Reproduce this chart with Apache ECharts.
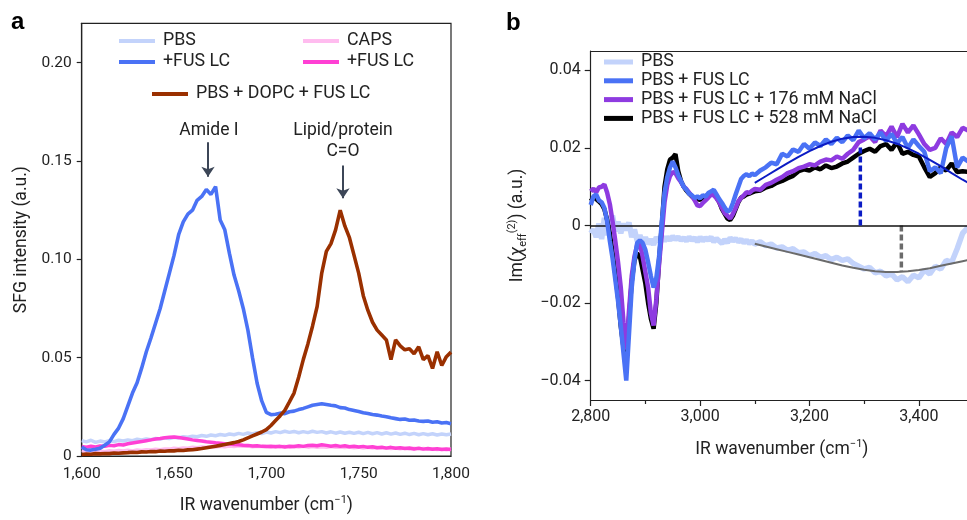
<!DOCTYPE html>
<html><head><meta charset="utf-8">
<script src="https://cdn.jsdelivr.net/npm/echarts@6/dist/echarts.min.js"></script>
<style>html,body{margin:0;padding:0;background:#fff}#c{width:967px;height:520px}</style>
</head><body><div id="c"></div>
<script>
// ---------- Panel a data ----------
const aWavenumber = [
1600,1602.5,1605,1607.5,1610,1612.5,1615,1617.5,1620,1622.5,
1625,1627.5,1630,1632.5,1635,1637.5,1640,1642.5,1645,1647.5,
1650,1652.5,1655,1657.5,1660,1662.5,1665,1667.5,1670,1672.5,
1675,1677.5,1680,1682.5,1685,1687.5,1690,1692.5,1695,1697.5,
1700,1702.5,1705,1707.5,1710,1712.5,1715,1717.5,1720,1722.5,
1725,1727.5,1730,1732.5,1735,1737.5,1740,1742.5,1745,1747.5,
1750,1752.5,1755,1757.5,1760,1762.5,1765,1767.5,1770,1772.5,
1775,1777.5,1780,1782.5,1785,1787.5,1790,1792.5,1795,1797.5,1800];
const aPBS = [
0.0078,0.0072,0.0080,0.0069,0.0076,0.0071,0.0078,0.0073,0.0080,0.0076,
0.0082,0.0078,0.0085,0.0081,0.0087,0.0083,0.0089,0.0086,0.0092,0.0089,
0.0095,0.0092,0.0098,0.0095,0.0101,0.0098,0.0104,0.0100,0.0107,0.0103,
0.0109,0.0105,0.0112,0.0108,0.0115,0.0110,0.0117,0.0112,0.0119,0.0114,
0.0122,0.0117,0.0124,0.0119,0.0126,0.0120,0.0125,0.0118,0.0124,0.0119,
0.0126,0.0120,0.0124,0.0117,0.0123,0.0116,0.0122,0.0116,0.0121,0.0115,
0.0121,0.0114,0.0120,0.0113,0.0119,0.0112,0.0118,0.0111,0.0117,0.0110,
0.0116,0.0109,0.0115,0.0108,0.0114,0.0108,0.0113,0.0107,0.0112,0.0108,0.0112];
const aPBSFUS = [
0.0045,0.0032,0.0030,0.0034,0.0040,0.0055,0.0072,0.0110,0.0142,0.0190,
0.0255,0.0320,0.0372,0.0448,0.0530,0.0600,0.0675,0.0750,0.0840,0.0930,
0.1020,0.1125,0.1190,0.1230,0.1250,0.1300,0.1320,0.1355,0.1330,0.1370,
0.1200,0.1150,0.1030,0.0920,0.0840,0.0750,0.0640,0.0500,0.0370,0.0280,
0.0222,0.0210,0.0212,0.0218,0.0215,0.0225,0.0228,0.0236,0.0242,0.0250,
0.0258,0.0262,0.0266,0.0262,0.0258,0.0255,0.0246,0.0244,0.0236,0.0231,
0.0226,0.0220,0.0216,0.0211,0.0208,0.0203,0.0200,0.0194,0.0190,0.0186,
0.0188,0.0182,0.0183,0.0178,0.0176,0.0178,0.0172,0.0174,0.0168,0.0170,0.0164];
const aCAPS = [
0.0028,0.0024,0.0027,0.0023,0.0026,0.0022,0.0027,0.0024,0.0028,0.0025,
0.0029,0.0026,0.0030,0.0028,0.0032,0.0030,0.0034,0.0032,0.0036,0.0035,
0.0039,0.0037,0.0041,0.0040,0.0044,0.0042,0.0046,0.0044,0.0048,0.0046,
0.0050,0.0047,0.0051,0.0048,0.0052,0.0049,0.0051,0.0047,0.0050,0.0048,
0.0049,0.0046,0.0050,0.0047,0.0049,0.0045,0.0048,0.0046,0.0049,0.0045,
0.0048,0.0044,0.0047,0.0045,0.0048,0.0044,0.0046,0.0043,0.0046,0.0042,
0.0045,0.0041,0.0044,0.0040,0.0043,0.0039,0.0042,0.0038,0.0041,0.0037,
0.0040,0.0036,0.0039,0.0035,0.0038,0.0034,0.0037,0.0033,0.0036,0.0032,0.0034];
const aCAPSFUS = [
0.0048,0.0045,0.0050,0.0046,0.0051,0.0049,0.0054,0.0052,0.0058,0.0056,
0.0062,0.0066,0.0070,0.0074,0.0078,0.0082,0.0086,0.0089,0.0093,0.0095,
0.0097,0.0094,0.0090,0.0086,0.0082,0.0079,0.0076,0.0072,0.0070,0.0067,
0.0065,0.0062,0.0061,0.0058,0.0057,0.0055,0.0054,0.0051,0.0052,0.0049,
0.0048,0.0050,0.0047,0.0049,0.0046,0.0050,0.0048,0.0052,0.0049,0.0053,
0.0055,0.0052,0.0057,0.0054,0.0050,0.0053,0.0049,0.0052,0.0047,0.0050,
0.0046,0.0049,0.0044,0.0047,0.0042,0.0045,0.0040,0.0044,0.0039,0.0042,
0.0038,0.0041,0.0036,0.0040,0.0035,0.0038,0.0034,0.0037,0.0033,0.0036,0.0033];
const aDOPC = [
0.0008,0.0010,0.0009,0.0012,0.0011,0.0013,0.0012,0.0015,0.0014,0.0016,
0.0017,0.0019,0.0018,0.0021,0.0020,0.0023,0.0022,0.0025,0.0024,0.0027,
0.0026,0.0029,0.0028,0.0031,0.0032,0.0035,0.0038,0.0042,0.0046,0.0050,
0.0054,0.0058,0.0063,0.0068,0.0074,0.0082,0.0092,0.0102,0.0112,0.0122,
0.0134,0.0155,0.0180,0.0205,0.0232,0.0275,0.0320,0.0400,0.0490,0.0570,
0.0660,0.0760,0.0930,0.1040,0.1080,0.1150,0.1250,0.1170,0.1110,0.1020,
0.0930,0.0815,0.0740,0.0680,0.0640,0.0615,0.0590,0.0490,0.0590,0.0560,
0.0540,0.0545,0.0520,0.0555,0.0490,0.0510,0.0445,0.0530,0.0460,0.0505,0.0528];
const aYTicks = [0, 0.05, 0.10, 0.15, 0.20];
const aArrows = [ // [x, yStart, yEnd]
  [1668.4, 0.1595, 0.1420],
  [1741.5, 0.1477, 0.1310]
];
const aNotes = [ // [x, y, text]
  [1668.9, 0.1655, 'Amide I'],
  [1741.5, 0.1601, 'Lipid/protein\nC=O']
];

// ---------- Panel b data ----------
const bWavenumber = [
2800,2805,2810,2815,2820,2825,2830,2835,2840,2845,
2850,2855,2860,2865,2870,2875,2880,2885,2890,2895,
2900,2905,2910,2915,2920,2925,2930,2935,2940,2945,
2950,2955,2960,2965,2970,2975,2980,2985,2990,2995,
3000,3005,3010,3015,3020,3025,3030,3035,3040,3045,
3050,3055,3060,3065,3070,3075,3080,3085,3090,3095,
3100,3110,3120,3130,3140,3150,3160,3170,3180,3190,
3200,3210,3220,3230,3240,3250,3260,3270,3280,3290,
3300,3310,3320,3330,3340,3350,3360,3370,3380,3390,
3400,3410,3420,3430,3440,3450,3460,3470,3480,3490];
const bPBS = [
-0.0020,-0.0010,-0.0030,0.0005,-0.0035,0.0020,-0.0025,0.0015,0.0025,-0.0015,
0.0010,-0.0020,0.0005,-0.0012,0.0008,-0.0030,-0.0010,-0.0040,-0.0025,-0.0045,
-0.0030,-0.0048,-0.0035,-0.0050,-0.0030,-0.0042,-0.0028,-0.0040,-0.0030,-0.0038,
-0.0028,-0.0036,-0.0030,-0.0038,-0.0032,-0.0040,-0.0030,-0.0038,-0.0032,-0.0042,
-0.0030,-0.0040,-0.0032,-0.0038,-0.0030,-0.0042,-0.0034,-0.0040,-0.0046,-0.0036,
-0.0044,-0.0032,-0.0040,-0.0034,-0.0042,-0.0036,-0.0044,-0.0038,-0.0046,-0.0040,
-0.0048,-0.0042,-0.0052,-0.0048,-0.0058,-0.0055,-0.0064,-0.0060,-0.0070,-0.0068,
-0.0078,-0.0072,-0.0082,-0.0078,-0.0088,-0.0082,-0.0090,-0.0086,-0.0098,-0.0105,
-0.0112,-0.0108,-0.0122,-0.0118,-0.0130,-0.0125,-0.0140,-0.0132,-0.0145,-0.0128,
-0.0135,-0.0115,-0.0125,-0.0105,-0.0112,-0.0090,-0.0095,-0.0060,-0.0020,-0.0005];
const bFUS = [
0.0053,0.0075,0.0080,0.0065,0.0060,0.0045,0.0012,-0.0040,-0.0085,-0.0140,
-0.0195,-0.0260,-0.0330,-0.0400,-0.0280,-0.0160,-0.0090,-0.0045,-0.0038,-0.0045,
-0.0063,-0.0095,-0.0130,-0.0160,-0.0135,-0.0080,0.0010,0.0085,0.0125,0.0150,
0.0165,0.0150,0.0130,0.0115,0.0100,0.0092,0.0082,0.0078,0.0071,0.0075,
0.0070,0.0078,0.0074,0.0084,0.0088,0.0092,0.0080,0.0068,0.0058,0.0046,
0.0036,0.0040,0.0058,0.0080,0.0100,0.0120,0.0128,0.0132,0.0127,0.0134,
0.0130,0.0142,0.0150,0.0162,0.0158,0.0185,0.0178,0.0196,0.0190,0.0210,
0.0198,0.0214,0.0205,0.0222,0.0210,0.0226,0.0215,0.0232,0.0220,0.0245,
0.0225,0.0238,0.0222,0.0240,0.0218,0.0236,0.0212,0.0228,0.0200,0.0222,
0.0205,0.0190,0.0140,0.0150,0.0135,0.0200,0.0230,0.0150,0.0175,0.0165];
const bNaCl176 = [
0.0088,0.0095,0.0085,0.0098,0.0100,0.0106,0.0085,0.0055,0.0010,-0.0040,
-0.0095,-0.0160,-0.0250,-0.0320,-0.0220,-0.0130,-0.0080,-0.0050,-0.0048,-0.0080,
-0.0120,-0.0160,-0.0225,-0.0258,-0.0190,-0.0100,-0.0020,0.0060,0.0105,0.0128,
0.0138,0.0135,0.0122,0.0112,0.0100,0.0094,0.0085,0.0076,0.0065,0.0052,
0.0050,0.0058,0.0065,0.0072,0.0080,0.0078,0.0070,0.0060,0.0045,0.0032,
0.0025,0.0018,0.0030,0.0045,0.0062,0.0071,0.0078,0.0086,0.0084,0.0090,
0.0094,0.0092,0.0105,0.0110,0.0118,0.0125,0.0135,0.0140,0.0148,0.0152,
0.0158,0.0155,0.0165,0.0170,0.0168,0.0178,0.0172,0.0185,0.0195,0.0215,
0.0222,0.0230,0.0215,0.0245,0.0230,0.0255,0.0228,0.0262,0.0240,0.0258,
0.0235,0.0210,0.0195,0.0200,0.0225,0.0210,0.0240,0.0228,0.0252,0.0245];
const bNaCl528 = [
0.0063,0.0072,0.0068,0.0062,0.0055,0.0042,0.0015,-0.0020,-0.0070,-0.0125,
-0.0185,-0.0260,-0.0315,-0.0335,-0.0240,-0.0145,-0.0090,-0.0072,-0.0080,-0.0115,
-0.0150,-0.0200,-0.0240,-0.0266,-0.0200,-0.0090,0.0000,0.0100,0.0145,0.0170,
0.0175,0.0184,0.0140,0.0115,0.0100,0.0090,0.0082,0.0075,0.0070,0.0068,
0.0066,0.0072,0.0075,0.0080,0.0086,0.0082,0.0072,0.0060,0.0042,0.0030,
0.0018,0.0014,0.0025,0.0042,0.0060,0.0072,0.0075,0.0080,0.0082,0.0085,
0.0088,0.0090,0.0098,0.0102,0.0110,0.0115,0.0122,0.0128,0.0140,0.0145,
0.0142,0.0150,0.0145,0.0155,0.0148,0.0152,0.0160,0.0165,0.0175,0.0185,
0.0192,0.0198,0.0190,0.0205,0.0210,0.0195,0.0215,0.0185,0.0190,0.0182,
0.0178,0.0150,0.0125,0.0135,0.0150,0.0142,0.0160,0.0138,0.0140,0.0138];
const bFitWavenumber = [3100,3120,3140,3160,3180,3200,3220,3240,3260,3280,3300,3320,3340,3360,3380,3400,3420,3440,3460,3480,3490];
const bFitFUS = [0.0110,0.0127,0.0144,0.0161,0.0177,0.0192,0.0205,0.0216,0.0224,0.0228,0.0229,0.0226,0.0220,0.0211,0.0199,0.0185,0.0169,0.0153,0.0135,0.0118,0.0110];
const bFitPBS = [-0.0047,-0.0054,-0.0061,-0.0068,-0.0075,-0.0082,-0.0089,-0.0096,-0.0103,-0.0109,-0.0114,-0.0118,-0.0120,-0.0120,-0.0118,-0.0115,-0.0110,-0.0104,-0.0098,-0.0092,-0.0089];
const bPeakFUS = [3293, 0.0205];   // dashed marker: x, top
const bPeakPBS = [3368, -0.0119];  // dashed marker: x, bottom
const bXTicks = [2800, 3000, 3200, 3400];
const bXMinorTicks = [2900, 3100, 3300];
const bYTicks = [-0.04, -0.02, 0, 0.02, 0.04];

const legendNames = {
  aPBS: 'PBS', aPBSFUS: '+FUS LC', aCAPS: 'CAPS', aCAPSFUS: '+FUS LC', aDOPC: 'PBS + DOPC + FUS LC',
  bPBS: 'PBS', bFUS: 'PBS + FUS LC', b176: 'PBS + FUS LC + 176 mM NaCl', b528: 'PBS + FUS LC + 528 mM NaCl'
};

const pairs = (xs, ys) => xs.map((x, i) => [x, ys[i]]);
const FONT = 'Roboto';
const INK = '#222';
const C = {
  pbsLight: '#c3d3fb', fusBlue: '#4a72f5', caps: '#ffbcef', capsFus: '#ff40d4', dopc: '#9a3000',
  purple: '#8e3be0', black: '#000000', fitBlue: '#0b1bc4', fitGray: '#6b6b6b', arrow: '#3c4657'
};

function lineSeries(name, xi, yi, data, color, width, z) {
  return { name, type: 'line', xAxisIndex: xi, yAxisIndex: yi, data, showSymbol: false, symbol: 'none',
    color, lineStyle: { color, width }, z, animation: false, silent: true };
}

const chart = echarts.init(document.getElementById('c'), null, { renderer: 'canvas' });
const thousands = v => v.toLocaleString('en-US');
const nameRich = {
  n: { fontSize: 17.5, color: INK, fontFamily: FONT, lineHeight: 22 },
  sup: { fontSize: 11, color: INK, fontFamily: FONT, verticalAlign: 'top', lineHeight: 11 },
  sub: { fontSize: 11, color: INK, fontFamily: FONT, verticalAlign: 'bottom', lineHeight: 12 },
  chi: { fontSize: 17.5, color: INK, fontFamily: FONT, lineHeight: 22, fontStyle: 'italic' }
};
const legendText = { fontSize: 17.8, color: INK, fontFamily: FONT, padding: [0, 0, 0, 3] };

const s1 = lineSeries('aPBS', 0, 0, pairs(aWavenumber, aPBS), C.pbsLight, 3.5, 2);
const s2 = lineSeries('aCAPS', 0, 0, pairs(aWavenumber, aCAPS), C.caps, 3.5, 2);
const s3 = lineSeries('aCAPSFUS', 0, 0, pairs(aWavenumber, aCAPSFUS), C.capsFus, 3.5, 3);
const s4 = lineSeries('aPBSFUS', 0, 0, pairs(aWavenumber, aPBSFUS), C.fusBlue, 3.6, 4);
const s5 = lineSeries('aDOPC', 0, 0, pairs(aWavenumber, aDOPC), C.dopc, 3.6, 5);
s5.markLine = {
  silent: true, symbol: ['none', 'arrow'], symbolSize: 10, animation: false,
  lineStyle: { color: C.arrow, width: 2, type: 'solid' }, label: { show: false },
  itemStyle: { color: C.arrow },
  data: aArrows.map(a => [{ coord: [a[0], a[1]] }, { coord: [a[0], a[2]] }])
};
s5.markPoint = {
  silent: true, symbol: 'rect', symbolSize: 1, itemStyle: { color: 'rgba(0,0,0,0)' }, animation: false,
  label: { show: true, position: 'inside', color: INK, fontSize: 17.5, fontFamily: FONT, lineHeight: 21 },
  data: aNotes.map(n => ({ coord: [n[0], n[1]], label: { formatter: n[2] } }))
};

const b0 = lineSeries('bPBS', 1, 1, pairs(bWavenumber, bPBS), C.pbsLight, 5.5, 2);
b0.markLine = { silent: true, symbol: 'none', animation: false, label: { show: false },
  lineStyle: { color: '#111', width: 1.6, type: 'solid' }, data: [{ yAxis: 0 }] };
const bFitG = lineSeries('bFitPBS', 1, 1, pairs(bFitWavenumber, bFitPBS), C.fitGray, 2, 3);
const bDashG = lineSeries('bDashPBS', 1, 1, [[bPeakPBS[0], 0], [bPeakPBS[0], bPeakPBS[1]]], C.fitGray, 3.5, 3);
bDashG.lineStyle.type = [6, 3];
const b3 = lineSeries('b528', 1, 1, pairs(bWavenumber, bNaCl528), C.black, 4.5, 4);
const b2 = lineSeries('b176', 1, 1, pairs(bWavenumber, bNaCl176), C.purple, 4.5, 5);
const b1 = lineSeries('bFUS', 1, 1, pairs(bWavenumber, bFUS), C.fusBlue, 4.5, 6);
const bFitB = lineSeries('bFitFUS', 1, 1, pairs(bFitWavenumber, bFitFUS), C.fitBlue, 2, 7);
const bDashB = lineSeries('bDashFUS', 1, 1, [[bPeakFUS[0], 0], [bPeakFUS[0], bPeakFUS[1]]], C.fitBlue, 3.5, 7);
bDashB.lineStyle.type = [6, 3];

const axisLineStyle = { color: INK, width: 1.2 };
// panel b plot area runs past the right edge of the window (as in the reference)
const B_MIN = 2800, B_MAX = 3488;

chart.setOption({
  animation: false,
  textStyle: { fontFamily: FONT },
  title: [
    { text: 'a', left: 11, top: 10, padding: 0, textStyle: { fontSize: 24, fontWeight: 'bold', color: '#000', fontFamily: 'Liberation Sans' } },
    { text: 'b', left: 506, top: 11, padding: 0, textStyle: { fontSize: 24, fontWeight: 'bold', color: '#000', fontFamily: 'Liberation Sans' } }
  ],
  grid: [
    { left: 81.7, top: 23.3, width: 369.3, height: 435.7, show: true, borderColor: INK, borderWidth: 1.2, backgroundColor: 'transparent' },
    { left: 590.7, top: 51, width: 381.8, height: 349, show: false }
  ],
  legend: [
    { data: ['aPBS', 'aPBSFUS'], orient: 'vertical', left: 119, top: 32, padding: 0, itemGap: 3, itemWidth: 36, itemHeight: 4, icon: 'rect', selectedMode: false, formatter: n => legendNames[n], textStyle: legendText },
    { data: ['aCAPS', 'aCAPSFUS'], orient: 'vertical', left: 303, top: 32, padding: 0, itemGap: 3, itemWidth: 36, itemHeight: 4, icon: 'rect', selectedMode: false, formatter: n => legendNames[n], textStyle: legendText },
    { data: ['aDOPC'], orient: 'vertical', left: 152, top: 85, padding: 0, itemWidth: 36, itemHeight: 4, icon: 'rect', selectedMode: false, formatter: n => legendNames[n], textStyle: legendText },
    { data: ['bPBS', 'bFUS', 'b176', 'b528'], orient: 'vertical', left: 604, top: 53, padding: 0, itemGap: 0.8, itemWidth: 29, itemHeight: 5, icon: 'rect', selectedMode: false, formatter: n => legendNames[n], textStyle: legendText }
  ],
  xAxis: [
    { gridIndex: 0, type: 'value', min: 1600, max: 1800, interval: 50,
      axisLine: { show: true, onZero: false, lineStyle: axisLineStyle }, axisTick: { show: false }, splitLine: { show: false },
      axisLabel: { margin: 10, fontSize: 15.5, color: INK, formatter: thousands },
      name: '{n|IR wavenumber (cm}{sup|−1}{n|)}', nameLocation: 'middle', nameGap: 39,
      nameTextStyle: { rich: nameRich } },
    { gridIndex: 1, type: 'value', min: B_MIN, max: B_MAX, position: 'bottom',
      axisLine: { show: true, onZero: false, lineStyle: axisLineStyle },
      axisTick: { show: true, length: 6, lineStyle: axisLineStyle, customValues: bXTicks },
      splitLine: { show: false },
      axisLabel: { margin: 9, fontSize: 16, color: INK, formatter: thousands, customValues: bXTicks },
      name: '{n|IR wavenumber (cm}{sup|−1}{n|)}', nameLocation: 'middle', nameGap: 39,
      nameTextStyle: { rich: nameRich, padding: [0, 0, 0, 6] } },
    { gridIndex: 1, type: 'value', min: B_MIN, max: B_MAX, position: 'bottom',
      axisLine: { show: false, onZero: false },
      axisTick: { show: true, length: 4, lineStyle: axisLineStyle, customValues: bXMinorTicks },
      axisLabel: { show: false }, splitLine: { show: false } },
    { gridIndex: 1, type: 'value', min: B_MIN, max: B_MAX, position: 'top',
      axisLine: { show: true, onZero: false, lineStyle: axisLineStyle },
      axisTick: { show: false }, axisLabel: { show: false }, splitLine: { show: false } }
  ],
  yAxis: [
    { gridIndex: 0, type: 'value', min: 0, max: 0.22,
      axisLine: { show: true, onZero: false, lineStyle: axisLineStyle },
      axisTick: { show: true, length: 5, lineStyle: axisLineStyle, customValues: aYTicks },
      splitLine: { show: false },
      axisLabel: { margin: 10, fontSize: 15.5, color: INK, customValues: aYTicks, formatter: v => v === 0 ? '0' : v.toFixed(2) },
      name: 'SFG intensity (a.u.)', nameLocation: 'middle', nameGap: 51,
      nameTextStyle: { fontSize: 17.5, color: INK, fontFamily: FONT } },
    { gridIndex: 1, type: 'value', min: -0.045, max: 0.045,
      axisLine: { show: true, onZero: false, lineStyle: axisLineStyle },
      axisTick: { show: true, length: 6, lineStyle: axisLineStyle, customValues: bYTicks },
      splitLine: { show: false },
      axisLabel: { margin: 10, fontSize: 16, color: INK, customValues: bYTicks,
        formatter: v => Math.abs(v) < 1e-9 ? '0' : (v < 0 ? '−' : '') + Math.abs(v).toFixed(2) },
      name: '{n|Im(}{chi|χ}{sub|eff}{sup|(2)}{n|) (a.u.)}', nameLocation: 'middle', nameGap: 62,
      nameTextStyle: { rich: nameRich } }
  ],
  series: [s1, s2, s3, s4, s5, b0, bFitG, bDashG, b3, b2, b1, bFitB, bDashB]
});
</script>
</body></html>
